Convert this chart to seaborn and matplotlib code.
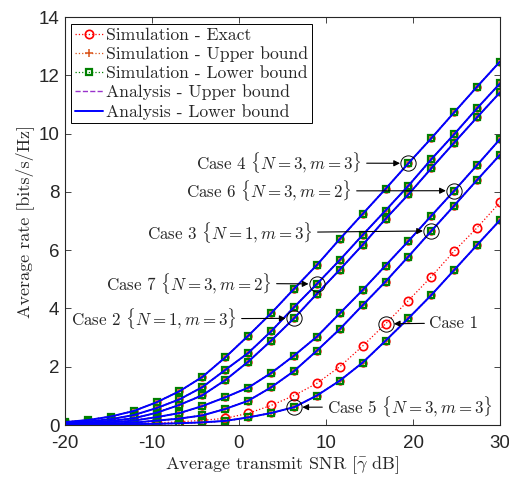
import numpy as np
import pandas as pd
import seaborn as sns
import matplotlib
matplotlib.use("Agg")
import matplotlib.pyplot as plt

# ---------------- data ----------------
snr_db = [-20, -17.37, -14.74, -12.11, -9.47, -6.84, -4.21, -1.58, 1.05, 3.68,
          6.32, 8.95, 11.58, 14.21, 16.84, 19.47, 22.11, 24.74, 27.37, 30]

case4 = [0.10, 0.17, 0.29, 0.48, 0.78, 1.16, 1.65, 2.32, 3.06, 3.83,
         4.67, 5.49, 6.38, 7.24, 8.10, 8.98, 9.84, 10.73, 11.61, 12.47]
case7 = [0.07, 0.12, 0.20, 0.34, 0.58, 0.88, 1.30, 1.89, 2.47, 3.21,
         4.04, 4.84, 5.66, 6.52, 7.36, 8.21, 9.12, 9.98, 10.87, 11.72]
case2 = [0.05, 0.08, 0.14, 0.23, 0.42, 0.69, 1.02, 1.54, 2.17, 2.89,
         3.66, 4.50, 5.33, 6.18, 7.07, 7.91, 8.81, 9.69, 10.56, 11.41]
case6 = [0.03, 0.05, 0.09, 0.15, 0.27, 0.41, 0.65, 0.95, 1.28, 1.78,
         2.38, 3.03, 3.83, 4.63, 5.47, 6.31, 7.18, 8.04, 8.92, 9.81]
case3 = [0.02, 0.03, 0.05, 0.08, 0.15, 0.22, 0.33, 0.55, 0.83, 1.29,
         1.85, 2.55, 3.29, 4.11, 4.92, 5.78, 6.66, 7.53, 8.41, 9.27]
case5 = [0.01, 0.01, 0.02, 0.03, 0.04, 0.06, 0.09, 0.14, 0.26, 0.41,
         0.61, 1.01, 1.52, 2.14, 2.89, 3.66, 4.46, 5.32, 6.18, 7.03]
case1_exact = [0.015, 0.02, 0.03, 0.05, 0.07, 0.11, 0.16, 0.23, 0.40, 0.67,
               1.01, 1.43, 2.00, 2.71, 3.47, 4.27, 5.09, 5.97, 6.77, 7.64]

bound_curves = {"Case 4": case4, "Case 7": case7, "Case 2": case2,
                "Case 6": case6, "Case 3": case3, "Case 5": case5}

legend_labels = ["Simulation - Exact", "Simulation - Upper bound",
                 "Simulation - Lower bound", "Analysis - Upper bound",
                 "Analysis - Lower bound"]
xticks = [-20, -10, 0, 10, 20, 30]
yticks = [0, 2, 4, 6, 8, 10, 12, 14]

# ---------------- style ----------------
sns.set_style("ticks")
plt.rcParams["font.family"] = ["cmr10", "DejaVu Serif"]
plt.rcParams["mathtext.fontset"] = "cm"
plt.rcParams["axes.formatter.use_mathtext"] = True

c_red = "#FF0000"
c_orange = "#D95319"
c_green = "#008000"
c_purple = "#9933CC"
c_blue = "#0000FF"

fig = plt.figure(figsize=(5.09, 4.78), dpi=100)
ax = fig.add_axes([65 / 509, 1 - 425 / 478, 435 / 509, 408 / 478])

# exact simulation (red circles) on every curve
for name, ys in bound_curves.items():
    sns.lineplot(x=snr_db, y=ys, ax=ax, color=c_red, linestyle=":", linewidth=0.9,
                 marker="o", markersize=5, markerfacecolor="none",
                 markeredgecolor=c_red, markeredgewidth=1.0, estimator=None, legend=False)
sns.lineplot(x=snr_db, y=case1_exact, ax=ax, color=c_red, linestyle=":", linewidth=0.9,
             marker="o", markersize=6, markerfacecolor="none",
             markeredgecolor=c_red, markeredgewidth=1.2, estimator=None, legend=False)

# upper bound simulation
for name, ys in bound_curves.items():
    sns.lineplot(x=snr_db, y=ys, ax=ax, color=c_orange, linestyle=":", linewidth=0.9,
                 marker="+", markersize=6, markeredgecolor=c_orange,
                 markeredgewidth=1.1, estimator=None, legend=False)
# lower bound simulation
for name, ys in bound_curves.items():
    sns.lineplot(x=snr_db, y=ys, ax=ax, color=c_green, linestyle=":", linewidth=0.9,
                 marker="s", markersize=4.4, markerfacecolor="none",
                 markeredgecolor=c_green, markeredgewidth=1.6, estimator=None, legend=False)
# analysis upper
for name, ys in bound_curves.items():
    sns.lineplot(x=snr_db, y=ys, ax=ax, color=c_purple, linestyle="--", linewidth=1.0,
                 estimator=None, legend=False)
# analysis lower
for name, ys in bound_curves.items():
    sns.lineplot(x=snr_db, y=ys, ax=ax, color=c_blue, linestyle="-", linewidth=1.4,
                 estimator=None, legend=False)

# ---------------- annotations ----------------
ann = [
    (r"Case 4 $\{N=3,m=3\}$", case4, 15, (14.14, 8.99), "right"),
    (r"Case 6 $\{N=3,m=2\}$", case6, 17, (12.99, 8.03), "right"),
    (r"Case 3 $\{N=1,m=3\}$", case3, 16, (8.5, 6.59), "right"),
    (r"Case 7 $\{N=3,m=2\}$", case7, 11, (3.79, 4.87), "right"),
    (r"Case 2 $\{N=1,m=3\}$", case2, 10, (-0.23, 3.64), "right"),
    (r"Case 1", case1_exact, 14, (21.84, 3.50), "left"),
    (r"Case 5 $\{N=3,m=3\}$", case5, 10, (10.11, 0.62), "left"),
]
for text, ys, i, pos, ha in ann:
    ax.plot([snr_db[i]], [ys[i]], marker="o", markersize=11, markerfacecolor="none",
            markeredgecolor="black", markeredgewidth=0.7, linestyle="none")
    ax.annotate(text, xy=(snr_db[i], ys[i]), xytext=pos, ha=ha, va="center",
                fontsize=12.2,
                arrowprops=dict(arrowstyle="-|>", color="black", lw=0.8,
                                shrinkA=1, shrinkB=6, mutation_scale=9))

# ---------------- legend ----------------
handles = [
    plt.Line2D([], [], color=c_red, linestyle=":", lw=0.9, marker="o", markersize=6,
               markerfacecolor="none", markeredgewidth=1.2),
    plt.Line2D([], [], color=c_orange, linestyle=":", lw=0.9, marker="+", markersize=6,
               markeredgewidth=1.1),
    plt.Line2D([], [], color=c_green, linestyle=":", lw=0.9, marker="s", markersize=4.4,
               markerfacecolor="none", markeredgewidth=1.6),
    plt.Line2D([], [], color=c_purple, linestyle="--", lw=1.0),
    plt.Line2D([], [], color=c_blue, linestyle="-", lw=1.4),
]
leg = ax.legend(handles, legend_labels, loc="upper left", bbox_to_anchor=(0.014, 0.983),
                fontsize=12.7, frameon=True, fancybox=False, framealpha=1,
                edgecolor="black", borderpad=0.2, labelspacing=0.2,
                handlelength=1.6, handletextpad=0.2, borderaxespad=0)
leg.get_frame().set_linewidth(0.7)

# ---------------- axes ----------------
ax.set_xlim(-20, 30)
ax.set_ylim(0, 14)
ax.set_xticks(xticks)
ax.set_yticks(yticks)
ax.set_xticklabels([str(v) for v in xticks], family="Liberation Sans", fontsize=13.5)
ax.set_yticklabels([str(v) for v in yticks], family="Liberation Sans", fontsize=13.5)
ax.tick_params(axis="x", pad=7)
ax.tick_params(axis="y", pad=4)
ax.tick_params(direction="in", length=4, width=0.6, top=True, right=True,
               colors="#262626")
for s in ax.spines.values():
    s.set_visible(True)
    s.set_linewidth(0.8)
    s.set_color("#262626")
ax.set_xlabel(r"Average transmit SNR [$\bar{\gamma}$ dB]", fontsize=13, labelpad=2)
ax.set_ylabel(r"Average rate [bits/s/Hz]", fontsize=13, labelpad=3)

fig.savefig("out.png", dpi=100)
